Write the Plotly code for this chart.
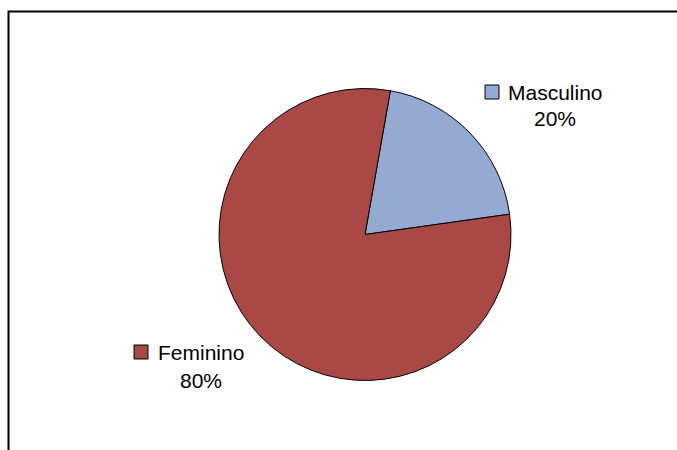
import plotly.graph_objects as go

labels = ["Masculino", "Feminino"]
values = [20, 80]
colors = ["#95AAD2", "#AA4845"]

W, H = 677, 450
total = sum(values)
pct = [f"{round(v / total * 100)}%" for v in values]

cx, cy, r = 365, 234.5, 146

fig = go.Figure(go.Pie(
    labels=labels, values=values, sort=False, direction="clockwise", rotation=10,
    marker=dict(colors=colors, line=dict(color="#000000", width=1)),
    textinfo="none", hoverinfo="label+percent", showlegend=False,
    domain=dict(x=[(cx - r) / W, (cx + r) / W], y=[(H - cy - r) / H, (H - cy + r) / H]),
))

font = dict(family="Liberation Sans, Arial, sans-serif", size=21, color="#000000")

# label layout: (square x0, square y-center, name x, pct center x, pct y)
label_pos = [
    (485, 92, 506, 555, 118),
    (134, 352, 156, 201, 380),
]
sq = 14
shapes = []
annotations = []
for i, (sx, sy, nx, px, py) in enumerate(label_pos):
    shapes.append(dict(type="rect", xref="paper", yref="paper",
                       x0=sx / W, x1=(sx + sq) / W, y0=1 - (sy + sq / 2) / H, y1=1 - (sy - sq / 2) / H,
                       fillcolor=colors[i], line=dict(color="#000000", width=1)))
    annotations.append(dict(text=labels[i], x=nx / W, y=1 - sy / H, xref="paper", yref="paper",
                            xanchor="left", yanchor="middle", showarrow=False, font=font))
    annotations.append(dict(text=pct[i], x=px / W, y=1 - py / H, xref="paper", yref="paper",
                            xanchor="center", yanchor="middle", showarrow=False, font=font))

# chart frame (left and top edges)
shapes.append(dict(type="path", xref="paper", yref="paper",
                   path=f"M {8.5 / W} 0 L {8.5 / W} {1 - 11.5 / H} L 1 {1 - 11.5 / H}",
                   line=dict(color="#000000", width=2)))

fig.update_layout(
    width=W, height=H, margin=dict(l=0, r=0, t=0, b=0),
    paper_bgcolor="#FFFFFF", plot_bgcolor="#FFFFFF",
    shapes=shapes, annotations=annotations,
)

fig.write_html("out.html")
